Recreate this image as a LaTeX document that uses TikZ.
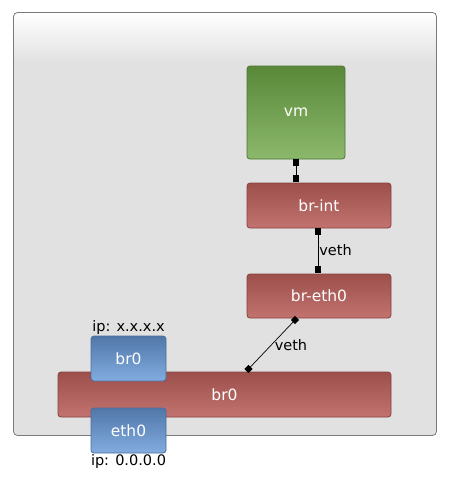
\documentclass[tikz,border=0pt]{standalone}
\usepackage{fontspec}
\setmainfont{DejaVu Sans}
\definecolor{bg}{HTML}{E1E1E1}
\definecolor{framec}{HTML}{7A7A7A}
\definecolor{redtop}{HTML}{9C4F4B}
\definecolor{redbot}{HTML}{C27370}
\definecolor{redline}{HTML}{86423F}
\definecolor{grntop}{HTML}{5A8839}
\definecolor{grnbot}{HTML}{8BB86B}
\definecolor{grnline}{HTML}{4C7532}
\definecolor{blutop}{HTML}{5077A8}
\definecolor{blubot}{HTML}{82ACE0}
\definecolor{bluline}{HTML}{4A6E9C}
\pgfdeclareverticalshading{outerbg}{100bp}{color(0bp)=(bg); color(69bp)=(bg); color(75bp)=(white); color(100bp)=(white)}
\tikzset{
  box/.style={rounded corners=3pt, inner sep=0pt, outer sep=0pt, line width=0.8pt,
    anchor=north west, text=white, font=\fontsize{15.5}{17}\selectfont},
  redbox/.style={box, draw=redline, top color=redtop, bottom color=redbot},
  grnbox/.style={box, draw=grnline, top color=grntop, bottom color=grnbot},
  blubox/.style={box, draw=bluline, top color=blutop, bottom color=blubot},
  lbl/.style={font=\fontsize{14.5}{16}\selectfont, text=black, inner sep=1pt},
  link/.style={line width=0.7pt},
  sqmark/.style={fill=black, inner sep=0pt, outer sep=0pt, minimum size=6.5pt},
  dmmark/.style={fill=black, inner sep=0pt, outer sep=0pt, minimum size=6pt, rotate=45},
}
\begin{document}
\begin{tikzpicture}[x=1pt,y=-1pt]
\useasboundingbox (0,0) rectangle (449,488);
\draw[framec, line width=0.8pt, rounded corners=4pt, shading=outerbg] (13.5,12.5) rectangle (436.5,435.5);
\node[grnbox, minimum width=98pt, minimum height=93pt] (vm) at (247,66) {vm};
\node[redbox, minimum width=144pt, minimum height=45pt] (brint) at (247,183) {br-int};
\node[redbox, minimum width=144pt, minimum height=44pt] (breth) at (247,274) {br-eth0};
\node[redbox, minimum width=333pt, minimum height=45pt] (brbig) at (58,372) {br0};
\node[blubox, minimum width=75pt, minimum height=45pt] (brsmall) at (91,336) {br0};
\node[blubox, minimum width=75pt, minimum height=45pt] (eth) at (91,408) {eth0};
\node[lbl, anchor=south] (ipx) at (brsmall.north) {ip: x.x.x.x};
\node[lbl, anchor=north] (ip0) at (eth.south) {ip: 0.0.0.0};
\node[sqmark] (a1) at (296,162.5) {};
\node[sqmark] (a2) at (296,178.5) {};
\draw[link] (a1) -- (a2);
\node[sqmark] (b1) at (318,231.5) {};
\node[sqmark] (b2) at (318,269.5) {};
\draw[link] (b1) -- (b2) node[lbl, midway, right] (v1) {veth};
\node[dmmark] (c1) at (295,320) {};
\node[dmmark] (c2) at (248.5,369) {};
\draw[link] (c1.center) -- (c2.center);
\node[lbl] (v2) at (291,345) {veth};
\end{tikzpicture}
\end{document}
